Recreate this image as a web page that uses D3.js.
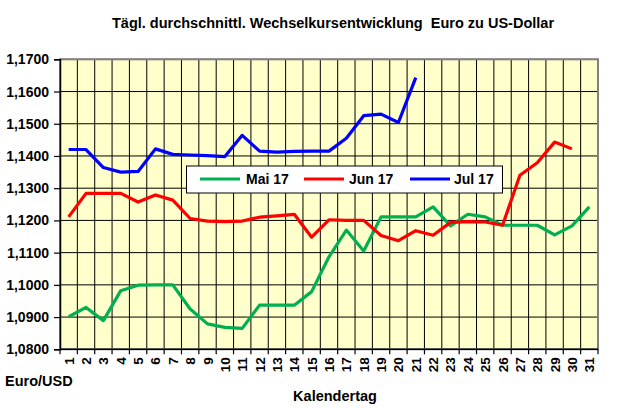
<!DOCTYPE html>
<html>
<head>
<meta charset="utf-8">
<script src="https://cdn.jsdelivr.net/npm/d3@7"></script>
<style>
  html, body { margin: 0; padding: 0; background: #fff; }
  svg { display: block; font-family: "Liberation Sans", Arial, sans-serif; }
</style>
</head>
<body>
<svg id="chart" width="622" height="408"></svg>
<script>
const days = ["1","2","3","4","5","6","7","8","9","10","11","12","13","14","15","16","17","18","19","20","21","22","23","24","25","26","27","28","29","30","31"];
const yTicks = [1.08,1.09,1.10,1.11,1.12,1.13,1.14,1.15,1.16,1.17];
const yTickLabels = ["1,0800","1,0900","1,1000","1,1100","1,1200","1,1300","1,1400","1,1500","1,1600","1,1700"];
const mai17 = [1.0901,1.0930,1.0889,1.0982,1.0999,1.1000,1.1000,1.0925,1.0879,1.0868,1.0865,1.0937,1.0937,1.0937,1.0979,1.1087,1.1170,1.1105,1.1211,1.1211,1.1211,1.1242,1.1183,1.1219,1.1211,1.1185,1.1185,1.1185,1.1155,1.1183,1.1242];
const jun17 = [1.1211,1.1284,1.1284,1.1284,1.1257,1.1279,1.1263,1.1206,1.1198,1.1196,1.1198,1.1210,1.1214,1.1219,1.1148,1.1202,1.1200,1.1200,1.1153,1.1137,1.1168,1.1154,1.1194,1.1196,1.1195,1.1185,1.1340,1.1379,1.1443,1.1422];
const jul17 = [1.1420,1.1420,1.1364,1.1350,1.1352,1.1422,1.1405,1.1403,1.1401,1.1398,1.1464,1.1415,1.1412,1.1414,1.1415,1.1415,1.1455,1.1525,1.1530,1.1504,1.1643];
const seriesNames = ["Mai 17","Jun 17","Jul 17"];
const seriesColors = ["#00B050","#FF0000","#0000FF"];
const seriesData = [mai17, jun17, jul17];

const svg = d3.select("#chart");
const L = 60, R = 598, T = 59.3, B = 349.3;

const x = d3.scaleBand().domain(days).range([L, R]).padding(0);
const y = d3.scaleLinear().domain([1.08, 1.17]).range([B, T]);
const cx = d => x(d) + x.bandwidth() / 2;

// plot background
svg.append("rect").attr("x", L).attr("y", T).attr("width", R - L).attr("height", B - T)
  .attr("fill", "#FFFFCC");

// vertical gridlines at category boundaries
const g = svg.append("g");
days.forEach((d, i) => {
  if (i === 0) return;
  g.append("line").attr("x1", x(d)).attr("x2", x(d)).attr("y1", T).attr("y2", B)
    .attr("stroke", "#000").attr("stroke-width", 1);
});
// horizontal gridlines
yTicks.forEach(v => {
  if (v === 1.08) return;
  g.append("line").attr("x1", L).attr("x2", R).attr("y1", y(v)).attr("y2", y(v))
    .attr("stroke", "#000").attr("stroke-width", 1);
});

// plot border (grey)
svg.append("rect").attr("x", L).attr("y", T).attr("width", R - L).attr("height", B - T)
  .attr("fill", "none").attr("stroke", "#808080").attr("stroke-width", 2);

// Y axis
const yAxis = d3.axisLeft(y).tickValues(yTicks)
  .tickFormat((d, i) => yTickLabels[i]).tickSizeOuter(0).tickSize(6).tickPadding(5);
const ya = svg.append("g").attr("transform", `translate(${L},0)`).call(yAxis);
ya.select(".domain").attr("stroke", "#000").attr("stroke-width", 1.5);
ya.selectAll(".tick line").attr("stroke", "#000").attr("stroke-width", 1.2);
ya.selectAll(".tick text").attr("font-size", "14px").attr("font-weight", "bold")
  .attr("fill", "#000").attr("font-family", "Liberation Sans, Arial, sans-serif");

// X axis
const xa = svg.append("g").attr("transform", `translate(0,${B})`);
xa.append("line").attr("x1", L).attr("x2", R).attr("y1", 0).attr("y2", 0)
  .attr("stroke", "#000").attr("stroke-width", 1.5);
days.forEach((d, i) => {
  xa.append("line").attr("x1", x(d)).attr("x2", x(d)).attr("y1", 0).attr("y2", 5)
    .attr("stroke", "#000").attr("stroke-width", 1.2);
});
xa.append("line").attr("x1", R).attr("x2", R).attr("y1", 0).attr("y2", 5)
  .attr("stroke", "#000").attr("stroke-width", 1.2);
days.forEach(d => {
  xa.append("text")
    .attr("transform", `translate(${cx(d) + 5},8) rotate(-90)`)
    .attr("text-anchor", "end")
    .attr("font-size", "13.5px").attr("font-weight", "bold").attr("fill", "#000")
    .text(d);
});

// lines
const line = d3.line().x((v, i) => cx(days[i])).y(v => y(v));
seriesData.forEach((data, k) => {
  svg.append("path").datum(data).attr("d", line)
    .attr("fill", "none").attr("stroke", seriesColors[k]).attr("stroke-width", 3.2)
    .attr("stroke-linejoin", "round");
});

// legend
const lg = svg.append("g");
lg.append("rect").attr("x", 186.5).attr("y", 166).attr("width", 316).attr("height", 27)
  .attr("fill", "#fff").attr("stroke", "#000").attr("stroke-width", 1);
const legendPos = [{lx: 200, tx: 246}, {lx: 304, tx: 349}, {lx: 410, tx: 454}];
seriesNames.forEach((n, k) => {
  lg.append("line").attr("x1", legendPos[k].lx).attr("x2", legendPos[k].lx + 40)
    .attr("y1", 179).attr("y2", 179).attr("stroke", seriesColors[k]).attr("stroke-width", 3.2);
  lg.append("text").attr("x", legendPos[k].tx).attr("y", 184)
    .attr("font-size", "14px").attr("font-weight", "bold").attr("fill", "#000").text(n);
});

// title & axis titles
svg.append("text").attr("x", 333).attr("y", 28).attr("text-anchor", "middle")
  .attr("font-size", "14.5px").attr("font-weight", "bold").attr("fill", "#000")
  .style("white-space", "pre")
  .text("Tägl. durchschnittl. Wechselkursentwicklung  Euro zu US-Dollar");
svg.append("text").attr("x", 5).attr("y", 386)
  .attr("font-size", "14.5px").attr("font-weight", "bold").attr("fill", "#000").text("Euro/USD");
svg.append("text").attr("x", 335).attr("y", 401).attr("text-anchor", "middle")
  .attr("font-size", "14.5px").attr("font-weight", "bold").attr("fill", "#000").text("Kalendertag");
</script>
</body>
</html>
